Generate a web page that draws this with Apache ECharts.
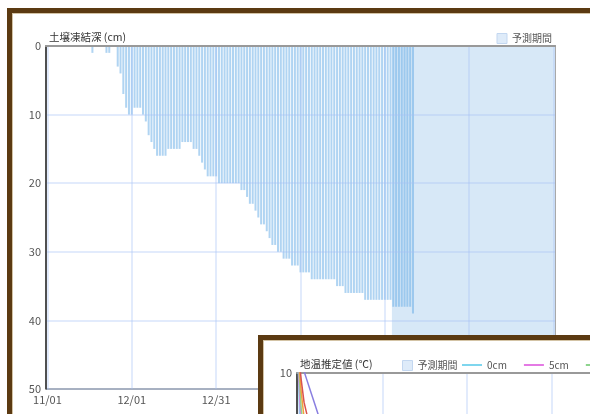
<!DOCTYPE html>
<html><head><meta charset="utf-8">
<script src="https://cdn.jsdelivr.net/npm/echarts@6/dist/echarts.min.js"></script>
<style>
html,body{margin:0;padding:0;width:590px;height:414px;overflow:hidden;background:#fff;}
.panel{position:absolute;border:5px solid #5b3a12;background:#fff;box-shadow:inset 0 0 0 1px #d3c3a5;}
#p1{left:7px;top:8px;width:640px;height:460px;}
#p2{left:258px;top:335px;width:640px;height:460px;}
.chart{position:absolute;left:0;top:0;width:578px;height:401px;}
</style></head>
<body>
<div id="p1" class="panel"><div id="c1" class="chart"></div></div>
<div id="p2" class="panel"><div id="c2" class="chart"></div></div>
<script>
// ---- data ----
const startDate = [2022, 10, 1];   // 11/01
const dayCount = 181;              // 11/01 .. 04/30
const forecastStartDay = 123;      // 予測期間 starts (03/04)
const labelEvery = 30;

// 土壌凍結深 (cm), one value per day from 11/01
const frostDepth = [
  null,null,null,null,null,null,null,null,null,null,
  null,null,null,null,null,null,1,null,null,null,
  null,1,1,null,null,3,4,7,9,10,
  10,9,9,9,10,11,13,14,15,16,
  16,16,16,15,15,15,15,15,14,14,
  14,14,15,15,16,17,18,19,19,19,
  19,20,20,20,20,20,20,20,20,21,
  21,22,23,23,24,25,26,26,27,28,
  29,29,30,30,31,31,31,32,32,32,
  33,33,33,33,34,34,34,34,34,34,
  34,34,34,35,35,35,36,36,36,36,
  36,36,36,37,37,37,37,37,37,37,
  37,37,37,38,38,38,38,38,38,38,
  39
];

// 地温推定値 (℃), first days from 11/01
const depthNames = ['0cm','5cm','10cm','20cm','30cm','50cm'];
const depthColors = ['#7fd6ee','#e47ae4','#8ed48e','#f0a23c','#d9534f','#8a7fe0'];
const temp0  = [10.1, 5.2, 3.9, 4.6, 2.3, 1.5, 2.8, 1.2, 0.4, 1.0];
const temp5  = [10.4, 6.8, 5.4, 5.6, 3.8, 2.9, 3.5, 2.4, 1.6, 1.9];
const temp10 = [10.7, 7.9, 6.5, 6.3, 4.9, 4.0, 4.2, 3.3, 2.6, 2.7];
const temp20 = [11.0, 8.9, 7.4, 7.0, 6.0, 5.2, 5.0, 4.3, 3.7, 3.6];
const temp30 = [11.2, 9.6, 8.3, 7.6, 6.9, 6.2, 5.8, 5.2, 4.6, 4.4];
const temp50 = [11.0, 10.5, 10.1, 9.6, 9.1, 8.6, 8.1, 7.6, 7.2, 6.8];
const tempSeries = [temp0, temp5, temp10, temp20, temp30, temp50];

// ---- categories (dates) ----
const categories = [];
for (let i = 0; i < dayCount; i++) {
  const d = new Date(startDate[0], startDate[1], startDate[2] + i);
  categories.push(String(d.getMonth() + 1).padStart(2, '0') + '/' + String(d.getDate()).padStart(2, '0'));
}

const font = '"Noto Sans CJK JP", "Noto Sans", sans-serif';
const shade = '#d7e8f7';
const gridLineColor = 'rgba(165,192,245,0.32)';

function baseOption(titleText) {
  return {
    animation: false,
    textStyle: { fontFamily: font },
    title: { text: titleText, left: 37, top: 19, padding: 0,
      textStyle: { fontSize: 10.5, fontWeight: 'normal', color: '#333', fontFamily: font } },
    grid: { left: 34, top: 33, right: 35, bottom: 25, show: true, borderColor: '#555', borderWidth: 1 },
    xAxis: [
      { type: 'category', data: categories, boundaryGap: true, z: 3,
        axisLine: { lineStyle: { color: '#999', width: 2 } },
        axisTick: { show: false },
        axisLabel: { interval: labelEvery - 1, fontSize: 11, color: '#555', margin: 5, fontFamily: font },
        splitLine: { show: true, interval: labelEvery - 1, alignWithLabel: true,
          lineStyle: { color: gridLineColor, width: 2 } } },
      { type: 'value', position: 'top', min: 0, max: dayCount, z: 3,
        axisLine: { show: true, lineStyle: { color: '#999', width: 2 } },
        axisLabel: { show: false }, axisTick: { show: false }, splitLine: { show: false } }
    ]
  };
}

const forecastLegendItem = { name: '予測期間', icon: 'rect',
  itemStyle: { color: '#deebf9', borderColor: '#c3d7f0', borderWidth: 1 } };

const forecastSeries = {
  name: '予測期間', type: 'line', xAxisIndex: 1, data: [], itemStyle: { color: shade },
  markArea: { silent: true, itemStyle: { color: shade },
    data: [[{ xAxis: forecastStartDay }, { xAxis: dayCount }]] }
};

// ---- chart 1 ----
const opt1 = baseOption('土壌凍結深 (cm)');
opt1.legend = { right: 38, top: 20, padding: 0, itemWidth: 10, itemHeight: 10,
  textStyle: { fontSize: 10, color: '#555', fontFamily: font }, data: [forecastLegendItem] };
opt1.yAxis = { type: 'value', inverse: true, min: 0, max: 50, interval: 10, z: 3,
  axisLine: { show: true, lineStyle: { color: '#333', width: 1.5 } },
  axisTick: { show: false },
  axisLabel: { fontSize: 11, color: '#555', margin: 5, fontFamily: font },
  splitLine: { lineStyle: { color: gridLineColor, width: 2 } } };
opt1.series = [
  forecastSeries,
  { name: '土壌凍結深', type: 'bar', xAxisIndex: 0, data: frostDepth, barWidth: 2,
    itemStyle: { color: 'rgba(97,169,229,0.5)' } }
];
echarts.init(document.getElementById('c1'), null, { renderer: 'canvas' }).setOption(opt1);

// ---- chart 2 ----
const opt2 = baseOption('地温推定値 (℃)');
opt2.legend = [
  { left: 139, top: 20, padding: 0, itemWidth: 10, itemHeight: 10,
    textStyle: { fontSize: 10, color: '#555', fontFamily: font }, data: [forecastLegendItem] },
  { left: 199, top: 20, padding: 0, itemWidth: 20, itemHeight: 10, itemGap: 17,
    textStyle: { fontSize: 10, color: '#555', fontFamily: font },
    data: depthNames.map(n => ({ name: n, icon: 'path://M0,0H20V2H0Z' })) }
];
opt2.yAxis = { type: 'value', min: -10, max: 10, interval: 5, z: 3,
  axisLine: { show: true, lineStyle: { color: '#333', width: 1.5 } },
  axisTick: { show: false },
  axisLabel: { fontSize: 11, color: '#555', margin: 5, fontFamily: font },
  splitLine: { lineStyle: { color: gridLineColor, width: 2 } } };
opt2.series = [Object.assign({}, forecastSeries)].concat(depthNames.map((n, i) => ({
  name: n, type: 'line', xAxisIndex: 0, data: tempSeries[i], showSymbol: false,
  color: depthColors[i], itemStyle: { color: depthColors[i] },
  lineStyle: { color: depthColors[i], width: 1.5 }
})));
echarts.init(document.getElementById('c2'), null, { renderer: 'canvas' }).setOption(opt2);
</script>
</body></html>
